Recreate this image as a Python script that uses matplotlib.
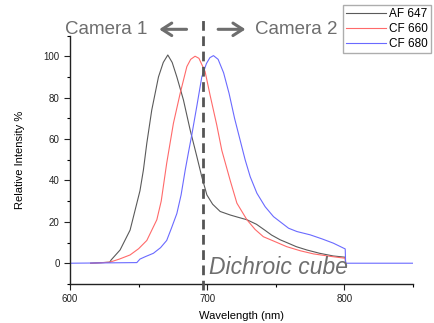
import numpy as np
import matplotlib.pyplot as plt
from matplotlib.ticker import MultipleLocator

plt.rcParams['font.family'] = ['Liberation Sans', 'DejaVu Sans']

# spectra (wavelength nm, relative intensity %)
af647_wl = [615, 629, 630, 636.5, 643.8, 651, 653.5, 656, 659.6, 664.5, 668, 671.3, 674.5,
            677.9, 682.7, 687.6, 692.5, 696, 699.8, 704, 709.5, 716.8, 722, 729, 736,
            742, 747, 753.3, 758, 765, 772.7, 782, 792, 800.7, 801]
af647_int = [0, 0.5, 1.6, 6.4, 16, 35, 45, 58, 74, 90, 97, 100.6, 97,
             90, 78.9, 64.4, 51.5, 42, 33, 28.5, 25, 23.3, 22.3, 21, 18.8,
             16, 13.6, 11.3, 10, 8, 6.4, 4.8, 3.5, 2.9, 0]

cf660_wl = [615, 622, 629, 636, 643.8, 650, 656, 663.3, 666.5, 670.5, 675.4, 680.3, 685.2,
            688, 691.2, 694, 698.5, 702.2, 707, 710.7, 716.8, 721.7, 729, 735, 741,
            751, 758, 768, 777.6, 790, 800.7, 801]
cf660_int = [0, 0.2, 0.5, 2, 4, 7, 11, 21, 30, 48.3, 67.6, 82, 95,
             98.5, 100, 99, 92.6, 81, 66.8, 54.5, 40, 29, 21, 16.3, 12.8,
             10, 8, 6, 4.5, 3.3, 2.4, 0]

cf680_wl = [600, 648.7, 651, 655, 660.8, 666, 670.5, 674, 677.9, 681, 684, 686.5, 688.8,
            692.5, 696.1, 699.5, 702, 704.6, 708, 712, 716, 720, 724, 727.7, 731.4,
            736.3, 742.3, 748.4, 753.3, 759.4, 765.5, 775.2, 784, 792, 800.7, 801, 850]
cf680_int = [0, 0.3, 2, 3.2, 4.8, 7.5, 11, 17, 24, 33, 45, 54, 62,
             76, 90, 96.5, 99.3, 100.3, 98.5, 92, 82, 70, 59.6, 50, 41.8,
             33.8, 27.3, 22.5, 20, 16.9, 15.3, 13.7, 11.7, 9.7, 6.9, 0, 0]

series = [('AF 647', af647_wl, af647_int, '#5a5a5a'),
          ('CF 660', cf660_wl, cf660_int, '#ff6a6a'),
          ('CF 680', cf680_wl, cf680_int, '#6a6aff')]

dichroic = 697
gray = '#6e6e6e'

fig = plt.figure(figsize=(4.35, 3.23), dpi=100)
ax = fig.add_axes([0.161, 0.121, 0.788, 0.769])

lines = []
for name, wl, val, col in series:
    l, = ax.plot(wl, val, color=col, lw=0.8, label=name)
    lines.append(l)

ax.set_xlim(600, 850)
ax.set_ylim(-10, 110)
ax.xaxis.set_major_locator(MultipleLocator(100))
ax.xaxis.set_minor_locator(MultipleLocator(50))
ax.yaxis.set_minor_locator(MultipleLocator(10))
ax.set_yticks([0, 20, 40, 60, 80, 100])
ax.spines['top'].set_visible(False)
ax.spines['right'].set_visible(False)
for s in ['left', 'bottom']:
    ax.spines[s].set_linewidth(1.0)
    ax.spines[s].set_color('#222222')
ax.tick_params(which='major', length=4, width=0.8, labelsize=7, colors='#222222')
ax.tick_params(which='minor', length=2.5, width=0.8)
ax.set_xlabel('Wavelength (nm)', fontsize=8, labelpad=5)
ax.set_ylabel('Relative Intensity %', fontsize=8, labelpad=13)

# dichroic split line
ax.plot([dichroic, dichroic], [-13, 120], color='#555555', lw=2, ls=(0, (3.5, 2)),
        clip_on=False, zorder=5)

ax.text(596, 113, 'Camera 1', fontsize=13.5, color=gray, ha='left', va='center')
ax.text(735, 113, 'Camera 2', fontsize=13.5, color=gray, ha='left', va='center')
arrow = dict(arrowstyle='->,head_length=0.7,head_width=0.45', color=gray, lw=2.2)
ax.annotate('', xy=(663, 113), xytext=(687, 113), annotation_clip=False, arrowprops=arrow)
ax.annotate('', xy=(730, 113), xytext=(706, 113), annotation_clip=False, arrowprops=arrow)
ax.text(701.5, -2.3, 'Dichroic cube', fontsize=16.5, style='italic', color=gray,
        ha='left', va='center')

fig.legend(handles=lines, loc='upper right', bbox_to_anchor=(0.991, 0.985),
           fontsize=8.5, frameon=True, fancybox=False, edgecolor='#999999',
           handlelength=3.4, handletextpad=0.3, borderpad=0.25, labelspacing=0.25,
           borderaxespad=0)

fig.savefig('out.png', dpi=100)
